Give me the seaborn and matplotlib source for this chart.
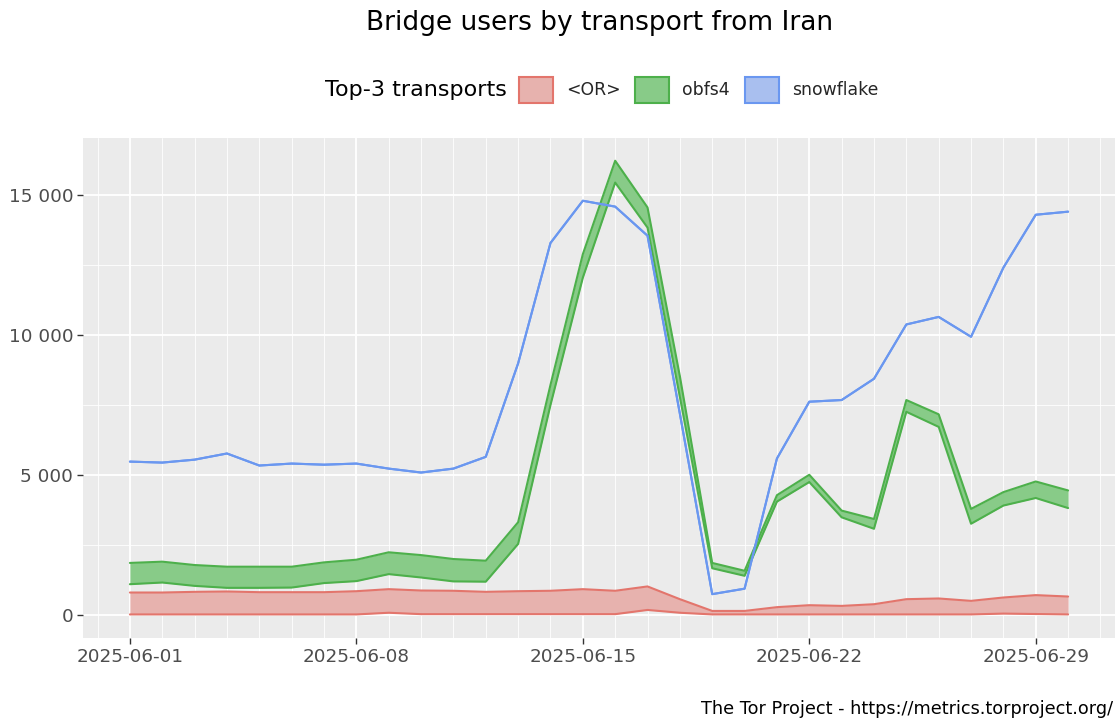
import numpy as np
import pandas as pd
import matplotlib
matplotlib.use("Agg")
import matplotlib.pyplot as plt
import matplotlib.dates as mdates
from matplotlib.patches import Patch
from matplotlib.ticker import FixedLocator, FuncFormatter
import seaborn as sns

# ---------------- data ----------------
dates = pd.date_range("2025-06-01", "2025-06-30", freq="D")

or_low = [30, 30, 30, 30, 30, 30, 30, 30, 90, 40,
          40, 40, 40, 40, 40, 40, 190, 90, 30, 30,
          30, 30, 30, 30, 30, 30, 30, 60, 45, 30]
or_high = [813, 813, 837, 850, 825, 825, 825, 860, 933, 885,
           875, 837, 860, 875, 933, 875, 1030, 575, 155, 155,
           290, 360, 335, 395, 575, 600, 515, 635, 720, 670]

obfs4_low = [1110, 1170, 1050, 980, 980, 990, 1150, 1220, 1470, 1350,
             1210, 1200, 2550, 7510, 12060, 15460, 13850, 7800, 1680, 1410,
             4060, 4760, 3500, 3090, 7270, 6730, 3270, 3920, 4190, 3830]
obfs4_high = [1870, 1915, 1795, 1735, 1735, 1735, 1890, 1985, 2250, 2150,
              2010, 1950, 3325, 8230, 12900, 16240, 14570, 8540, 1870, 1590,
              4290, 5020, 3740, 3440, 7690, 7180, 3800, 4400, 4780, 4460]

snow_low = [5490, 5455, 5560, 5780, 5350, 5420, 5380, 5420, 5240, 5100,
            5240, 5660, 9000, 13300, 14810, 14600, 13560, 7200, 755, 950,
            5600, 7630, 7690, 8450, 10390, 10660, 9950, 12420, 14310, 14420]
snow_high = snow_low

transports = ["<OR>", "obfs4", "snowflake"]
line_colors = ["#E3756C", "#4DB04B", "#6A97F0"]
fill_colors = ["#E7B2AE", "#88CB88", "#A9BFEF"]
lows = [or_low, obfs4_low, snow_low]
highs = [or_high, obfs4_high, snow_high]

y_ticks = [0, 5000, 10000, 15000]
x_ticks = ["2025-06-01", "2025-06-08", "2025-06-15", "2025-06-22", "2025-06-29"]

# ---------------- long table ----------------
rows = []
for name, lo, hi in zip(transports, lows, highs):
    for d, l, h in zip(dates, lo, hi):
        rows.append({"date": d, "transport": name, "bound": "low", "users": l})
        rows.append({"date": d, "transport": name, "bound": "high", "users": h})
df = pd.DataFrame(rows)

# ---------------- figure ----------------
sns.set_theme(style="darkgrid")
plt.rcParams["font.family"] = ["DejaVu Sans"]

fig = plt.figure(figsize=(11.18, 7.21), dpi=100)
fig.patch.set_facecolor("white")
ax = fig.add_axes([83 / 1118, 1 - 638 / 721, (1115 - 83) / 1118, (638 - 138) / 721])
ax.set_facecolor("#EBEBEB")

for name, lo, hi, lc, fc in zip(transports, lows, highs, line_colors, fill_colors):
    sub = df[df.transport == name]
    ax.fill_between(dates, lo, hi, color=fc, linewidth=0, zorder=2)
    sns.lineplot(data=sub, x="date", y="users", units="bound", estimator=None,
                 color=lc, linewidth=1.5, ax=ax, legend=False, zorder=3)

# axes limits (ggplot-style 5% expansion)
x0 = mdates.date2num(dates[0])
x1 = mdates.date2num(dates[-1])
span = x1 - x0
ax.set_xlim(x0 - 0.05 * span, x1 + 0.05 * span)
ymax = max(obfs4_high)
ax.set_ylim(-0.05 * ymax, 1.05 * ymax)

# grid
ax.grid(False)
ax.yaxis.set_major_locator(FixedLocator(y_ticks))
ax.yaxis.set_minor_locator(FixedLocator([2500, 7500, 12500]))
ax.xaxis.set_major_locator(FixedLocator([mdates.date2num(pd.Timestamp(t)) for t in x_ticks]))
ax.xaxis.set_minor_locator(FixedLocator(list(mdates.date2num(dates)) + [x0 - 1, x1 + 1]))
ax.grid(which="major", color="white", linewidth=1.3, zorder=0)
ax.grid(which="minor", color="white", linewidth=0.6, zorder=0)
ax.set_axisbelow(True)

ax.yaxis.set_major_formatter(FuncFormatter(lambda v, p: f"{int(v):,}".replace(",", " ")))
ax.xaxis.set_major_formatter(mdates.DateFormatter("%Y-%m-%d"))
ax.tick_params(axis="both", which="major", labelsize=13.2, labelcolor="#4D4D4D",
               color="#333333", length=4, width=1, pad=3,
               bottom=True, left=True)
ax.tick_params(axis="both", which="minor", length=0)
for s in ax.spines.values():
    s.set_visible(False)
ax.set_xlabel("")
ax.set_ylabel("")

# title
fig.text(600 / 1118, 1 - 23 / 721, "Bridge users by transport from Iran",
         ha="center", va="center", fontsize=19, color="black")

# legend
fig.text(325 / 1118, 1 - 90 / 721, "Top-3 transports", ha="left", va="center",
         fontsize=16, color="black")
handles = [Patch(facecolor=fc, edgecolor=lc, linewidth=1.5)
           for lc, fc in zip(line_colors, fill_colors)]
fig.legend(handles, transports, loc="center left", bbox_to_anchor=(519 / 1118, 1 - 90 / 721),
           ncol=3, frameon=False, fontsize=12.4, handlelength=1.97, handleheight=1.97,
           handletextpad=0.75, columnspacing=0.87, borderpad=0, borderaxespad=0)

# caption
fig.text(1113 / 1118, 1 - 709 / 721, "The Tor Project - https://metrics.torproject.org/",
         ha="right", va="center", fontsize=12.7, color="black")

fig.savefig("out.png", dpi=100, facecolor="white")
